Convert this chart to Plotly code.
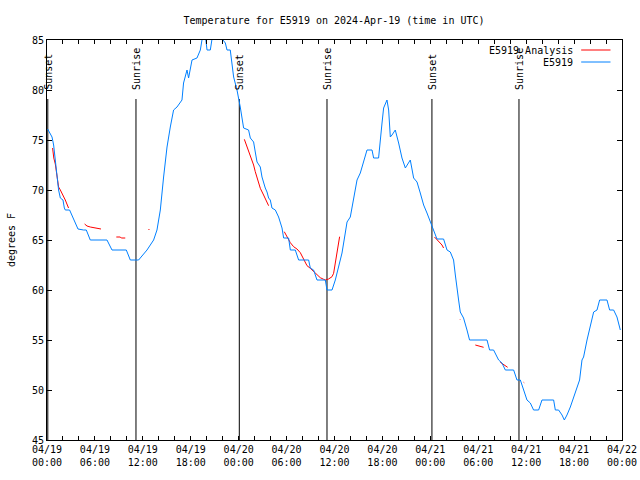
import plotly.graph_objects as go
import pandas as pd

# ---- data (hours since 2024-04-19 00:00 UTC) ----
start = pd.Timestamp("2024-04-19 00:00")

obs_hours = [0.08, 0.63, 0.83, 1.04, 1.25, 1.45, 1.67, 1.88, 2.0, 2.17, 2.29, 2.83, 3.13, 3.54, 3.88,
             4.58, 4.92, 5.42, 7.51, 8.14, 9.93, 10.43, 11.47, 12.52, 13.35, 13.77, 14.19, 14.6,
             14.81, 15.03, 15.44, 15.85, 16.28, 16.9, 17.1, 17.53, 17.73, 18.16, 18.78, 19.2,
             19.61, 19.82, 20.04, 20.45, 20.74, 21.2, 21.7, 22.04, 22.33, 22.54, 22.95, 23.17,
             23.37, 23.79, 24.08, 24.2, 24.62, 25.24, 25.46, 25.87, 26.08, 26.3, 26.71, 26.92,
             27.33, 27.55, 27.75, 27.96, 28.17, 28.59, 29.0, 29.43, 29.63, 30.25, 30.47, 31.09,
             31.51, 32.76, 32.97, 33.38, 33.81, 34.85, 35.06, 35.69, 36.1, 36.51, 36.94, 37.35,
             37.57, 37.98, 38.39, 38.82, 39.23, 39.64, 40.07, 40.7, 40.9, 41.52, 41.74, 41.95,
             42.15, 42.57, 42.78, 42.99, 43.2, 43.61, 44.03, 44.45, 44.87, 45.49, 45.91, 46.33,
             46.74, 47.16, 47.58, 48.0, 48.41, 48.83, 49.66, 50.09, 50.5, 50.91, 51.13, 51.34,
             51.54, 51.75, 52.16, 52.59, 52.91, 55.1, 55.42, 55.92, 56.35, 56.55, 56.97, 57.39,
             58.43, 58.85, 59.27, 59.68, 60.1, 60.52, 60.93, 61.56, 61.98, 63.44, 63.65, 64.06,
             64.49, 64.78, 65.11, 65.53, 65.94, 66.37, 66.69, 66.99, 67.19, 67.62, 68.03, 68.45,
             68.87, 69.2, 70.12, 70.45, 70.95, 71.37, 71.79]
obs_temp = [76.1, 75.3, 74.5, 72.8, 71.7, 70.0, 69.2, 69.0, 69.0, 68.2, 68.0, 68.0, 67.5, 66.8, 66.1,
            66.0, 66.0, 65.0, 65.0, 64.0, 64.0, 63.0, 63.0, 64.0, 65.0, 66.0, 68.0, 71.3,
            73.0, 74.3, 76.3, 78.0, 78.3, 79.0, 80.7, 82.0, 81.2, 83.0, 83.2, 84.0,
            86.0, 85.5, 84.0, 84.0, 85.5, 86.5, 86.0, 85.0, 84.7, 84.0, 84.0, 82.7,
            81.3, 80.0, 79.0, 78.3, 76.2, 76.0, 75.2, 74.8, 73.8, 72.8, 72.3, 71.3,
            70.2, 69.8, 69.2, 69.0, 68.2, 68.0, 67.3, 66.2, 65.2, 65.2, 64.0, 64.0,
            63.0, 63.0, 62.2, 62.0, 61.0, 61.0, 60.0, 60.0, 61.0, 62.3, 63.7, 65.7,
            66.8, 67.3, 69.0, 71.0, 71.7, 72.8, 74.0, 74.0, 73.2, 73.2, 74.7, 76.7,
            78.2, 79.0, 78.0, 75.3, 75.5, 76.0, 74.7, 73.2, 72.2, 73.0, 71.2, 70.8,
            69.7, 68.5, 67.7, 66.8, 66.0, 65.1, 65.1, 64.0, 63.8, 63.0, 61.5, 60.0,
            59.0, 57.8, 57.2, 56.0, 55.0, 55.0, 54.0, 54.0, 53.3, 53.0, 52.7, 52.0,
            52.0, 51.0, 51.0, 50.0, 49.0, 48.7, 48.0, 48.0, 49.0, 49.0, 48.0, 48.0,
            47.5, 47.0, 47.5, 48.3, 49.3, 50.3, 51.0, 53.0, 53.3, 55.0, 56.3, 57.8,
            58.0, 59.0, 59.0, 58.0, 58.0, 57.3, 56.0]

# analysis series: None separates the segments
ana_hours = [0.70, 0.85, 1.04, 1.33, 1.45, 1.67, 1.88, 2.29, 2.70, None,
             4.71, 5.01, 5.42, 6.05, 6.46, 6.76, None,
             8.68, 9.18, 9.30, 9.80, None,
             12.72, 12.81, None,
             24.71, 25.04, 25.46, 25.87, 26.08, 26.30, 26.71, 27.12, 27.55, 27.75, None,
             29.71, 30.05, 30.47, 30.88, 31.30, 31.72, 32.13, 32.56, 32.97, 33.38, 33.81,
             34.22, 34.64, 34.85, 35.26, 35.69, 35.89, 36.10, 36.31, 36.51, 36.64, None,
             48.52, 49.04, 49.46, 49.66, None,
             51.67, 51.73, None,
             53.63, 54.04, 54.47, 54.67, None,
             56.76, 57.18, 57.68, None,
             59.68, 59.76]
ana_temp = [74.2, 73.2, 72.6, 71.2, 70.3, 70.0, 69.7, 69.0, 68.2, None,
            66.6, 66.4, 66.3, 66.2, 66.1, 66.1, None,
            65.3, 65.3, 65.2, 65.2, None,
            66.1, 66.0, None,
            75.07, 74.33, 73.5, 72.5, 71.83, 71.17, 70.17, 69.5, 68.83, 68.43, None,
            65.83, 65.33, 64.73, 64.33, 64.1, 63.73, 63.07, 62.43, 62.17, 61.83, 61.5,
            61.23, 61.07, 61.0, 61.1, 61.33, 61.67, 62.67, 63.67, 64.67, 65.33, None,
            65.3, 64.83, 64.5, 64.2, None,
            57.1, 57.05, None,
            54.5, 54.43, 54.33, 54.27, None,
            52.77, 52.57, 52.27, None,
            50.77, 50.72]

sun_event_names = ["Sunset", "Sunrise", "Sunset", "Sunrise", "Sunset", "Sunrise"]
sun_event_hours = [0.10, 11.14, 24.08, 35.06, 48.20, 59.10]
sun_line_top = 79.1
sun_label_at = 79.8

tick_hours = [0, 6, 12, 18, 24, 30, 36, 42, 48, 54, 60, 66, 72]
tick_labels = ["04/19<br>00:00", "04/19<br>06:00", "04/19<br>12:00", "04/19<br>18:00",
               "04/20<br>00:00", "04/20<br>06:00", "04/20<br>12:00", "04/20<br>18:00",
               "04/21<br>00:00", "04/21<br>06:00", "04/21<br>12:00", "04/21<br>18:00",
               "04/22<br>00:00"]

y_min, y_max = 45, 85
title_text = "Temperature for E5919 on 2024-Apr-19 (time in UTC)"
series_names = ["E5919 Analysis", "E5919"]
series_colors = ["#ff0000", "#0080ff"]


def to_time(hours):
    return [None if h is None else start + pd.Timedelta(hours=h) for h in hours]


FONT = "DejaVu Sans Mono"
fig = go.Figure()

# sunrise / sunset lines
sx, sy = [], []
for h in sun_event_hours:
    t = start + pd.Timedelta(hours=h)
    sx += [t, t, None]
    sy += [sun_line_top, y_min, None]
fig.add_trace(go.Scatter(x=sx, y=sy, mode="lines", line=dict(color="black", width=1),
                         hoverinfo="skip", showlegend=False))

fig.add_trace(go.Scatter(x=to_time(ana_hours), y=ana_temp, mode="lines", name=series_names[0],
                         line=dict(color=series_colors[0], width=1), connectgaps=False,
                         showlegend=False))
fig.add_trace(go.Scatter(x=to_time(obs_hours), y=obs_temp, mode="lines", name=series_names[1],
                         line=dict(color=series_colors[1], width=1), showlegend=False))

for name, h in zip(sun_event_names, sun_event_hours):
    fig.add_annotation(x=start + pd.Timedelta(hours=h), y=sun_label_at, text=name,
                       textangle=-90, showarrow=False, xanchor="center", yanchor="bottom",
                       font=dict(family=FONT, size=10, color="black"))

# legend drawn gnuplot-style (text right-aligned, sample line on the right)
leg_y = [0.975, 0.945]
for name, col, yy in zip(series_names, series_colors, leg_y):
    fig.add_annotation(xref="paper", yref="paper", x=0.919, y=yy, text=name, showarrow=False,
                       xanchor="right", yanchor="middle",
                       font=dict(family=FONT, size=10, color="black"))
    fig.add_shape(type="line", xref="paper", yref="paper", x0=0.929, x1=0.980, y0=yy, y1=yy,
                  line=dict(color=col, width=1))

fig.update_layout(
    width=640, height=480, autosize=False,
    margin=dict(l=47, r=18, t=40, b=40),
    paper_bgcolor="white", plot_bgcolor="white",
    hovermode=False,
    font=dict(family=FONT, size=10, color="black"),
    title=dict(text=title_text, x=334 / 640, xanchor="center", y=1 - 20 / 480,
               yanchor="middle", font=dict(family=FONT, size=10)),
)
fig.update_xaxes(
    range=[start, start + pd.Timedelta(hours=72)],
    tickmode="array", tickvals=to_time(tick_hours), ticktext=tick_labels,
    ticks="inside", ticklen=4, tickcolor="black",
    showline=True, linecolor="black", linewidth=1, mirror="ticks",
    showgrid=False, zeroline=False, automargin=False,
    minor=dict(dtick=2 * 3600 * 1000, tick0=start, ticks="inside", ticklen=4,
               tickcolor="black", showgrid=False),
    tickfont=dict(family=FONT, size=10),
)
fig.update_yaxes(
    range=[y_min, y_max], dtick=5, tick0=45,
    ticks="inside", ticklen=5, tickcolor="black",
    showline=True, linecolor="black", linewidth=1, mirror="ticks",
    showgrid=False, zeroline=False, automargin=False,
    title=dict(text="degrees F", font=dict(family=FONT, size=10), standoff=14),
    tickfont=dict(family=FONT, size=10),
)

fig.write_html("out.html", config={"displayModeBar": False},
               post_script="document.body.style.margin='0';")
